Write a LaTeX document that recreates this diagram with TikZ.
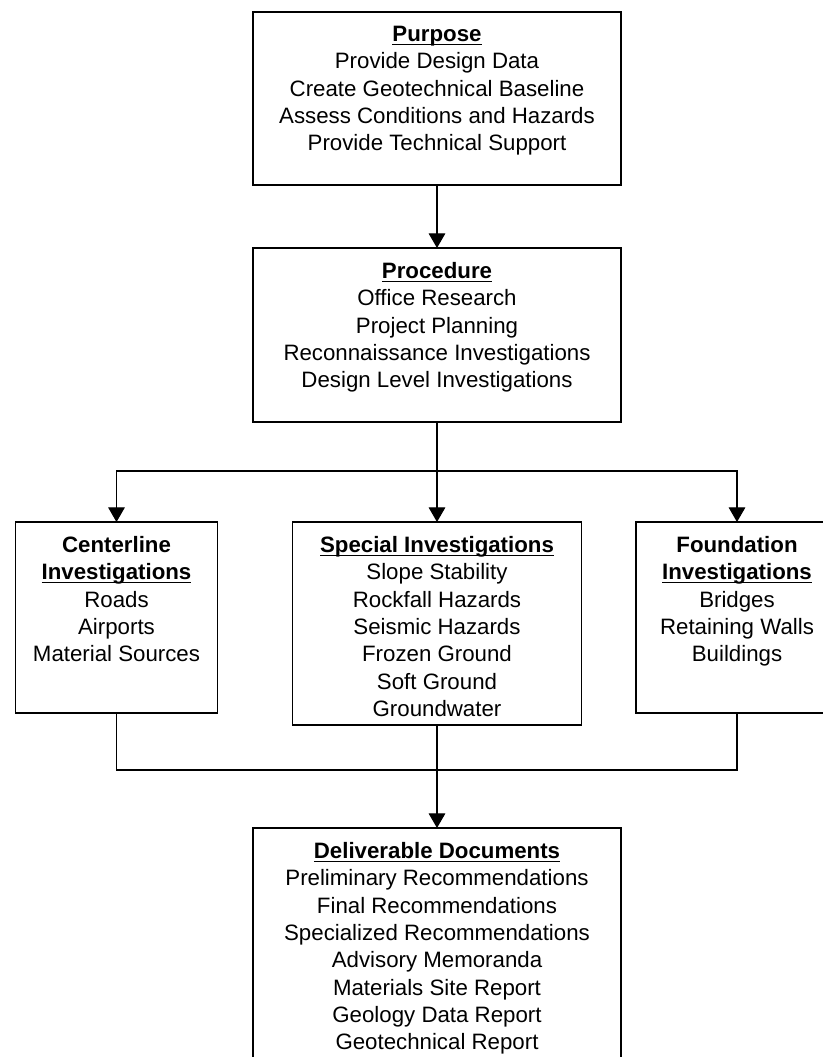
\documentclass[tikz,border=0pt]{standalone}
\usepackage{fontspec}
\setmainfont{Liberation Sans}
\usetikzlibrary{positioning,arrows.meta}
\newcommand{\hdr}[1]{\setbox0\hbox{\textbf{#1}}\rlap{\rule[-2.8pt]{\wd0}{1.1pt}}\box0}
\begin{document}
\begin{tikzpicture}[x=0.75pt,y=-0.75pt,
    box/.style={draw, line width=1.3pt, inner sep=0pt, outer sep=0pt},
    txt/.style={inner sep=0pt, align=center, font=\fontsize{16.7}{20.5}\selectfont},
    link/.style={line width=0.8pt},
    arrow/.style={line width=0.8pt, -{Triangle[width=12.5pt,length=11pt]}}]
    \useasboundingbox (0,0) rectangle (823,1057);
    % boxes
    \node[box, minimum width=276pt, minimum height=129.75pt] (purpose) at (437,98.5) {};
    \node[box, minimum width=276pt, minimum height=130.5pt] (procedure) at (437,335) {};
    \node[box, minimum width=151.5pt, minimum height=143.25pt] (centerline) at (116.5,617.5) {};
    \node[box, minimum width=216.75pt, minimum height=152.25pt] (special) at (437,623.5) {};
    \node[box, minimum width=151.5pt, minimum height=143.25pt] (foundation) at (737,617.5) {};
    \node[box, minimum width=276pt, minimum height=189pt] (deliver) at (437,954) {};
    % texts
    \node[txt, below=10.5pt of purpose.north] (purposetxt) {\hdr{Purpose}\\Provide Design Data\\Create Geotechnical Baseline\\Assess Conditions and Hazards\\Provide Technical Support};
    \node[txt, below=10.5pt of procedure.north] (proceduretxt) {\hdr{Procedure}\\Office Research\\Project Planning\\Reconnaissance Investigations\\Design Level Investigations};
    \node[txt, below=10.5pt of centerline.north] (centerlinetxt) {\textbf{Centerline}\\\hdr{Investigations}\\Roads\\Airports\\Material Sources};
    \node[txt, below=10.5pt of special.north] (specialtxt) {\hdr{Special Investigations}\\Slope Stability\\Rockfall Hazards\\Seismic Hazards\\Frozen Ground\\Soft Ground\\Groundwater};
    \node[txt, below=10.5pt of foundation.north] (foundationtxt) {\textbf{Foundation}\\\hdr{Investigations}\\Bridges\\Retaining Walls\\Buildings};
    \node[txt, below=10.5pt of deliver.north] (delivertxt) {\hdr{Deliverable Documents}\\Preliminary Recommendations\\Final Recommendations\\Specialized Recommendations\\Advisory Memoranda\\Materials Site Report\\Geology Data Report\\Geotechnical Report};
    % connectors
    \coordinate (split) at (437,471);
    \coordinate (merge) at (437,770);
    \draw[arrow] (purpose.south) -- (procedure.north);
    \draw[link] (procedure.south) -- (split);
    \draw[arrow] (split) -- (special.north);
    \draw[arrow] (split) -| (centerline.north);
    \draw[arrow] (split) -| (foundation.north);
    \draw[link] (centerline.south) |- (merge) -| (foundation.south);
    \draw[arrow] (special.south) -- (deliver.north);
\end{tikzpicture}
\end{document}
